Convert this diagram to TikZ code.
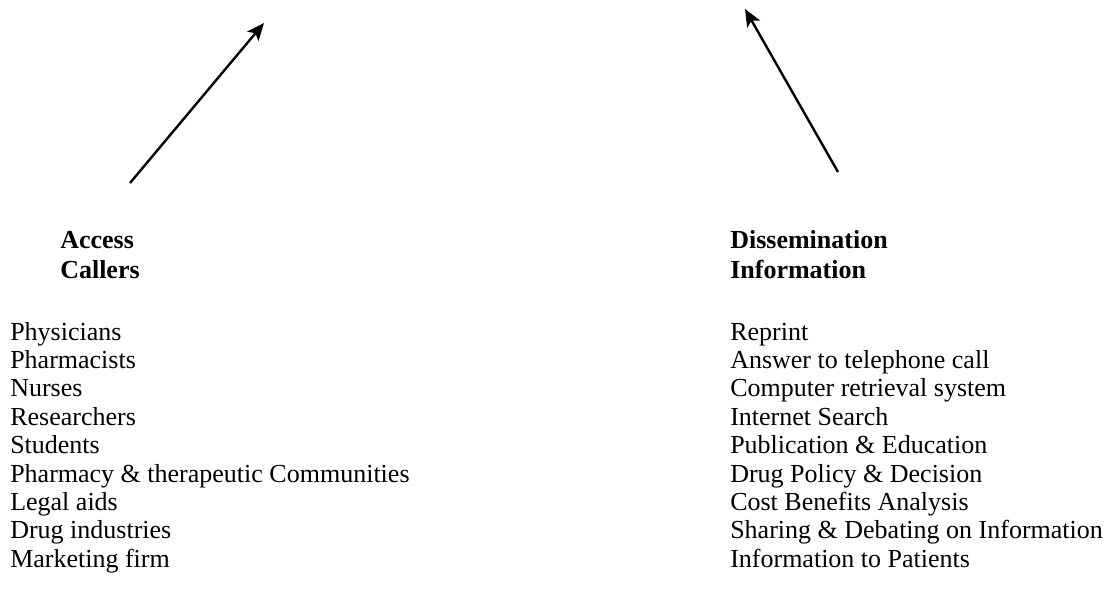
\documentclass[tikz,border=0pt]{standalone}
\usepackage{fontspec}
\setmainfont{Liberation Serif}
\usetikzlibrary{arrows.meta}
\tikzset{
  listitem/.style={anchor=base west, inner sep=0pt, font=\fontsize{19.5}{21.5}\selectfont},
  header/.style={anchor=base west, inner sep=0pt, font=\fontsize{19.5}{21.5}\selectfont\bfseries},
  bigarrow/.style={line width=1.8pt, -{Stealth[length=13pt, width=11pt, inset=3pt]}}
}
\begin{document}
\begin{tikzpicture}[x=0.75pt, y=-0.75pt]
\useasboundingbox (0,0) rectangle (1113,590);
% arrows
\coordinate (lt) at (130,183);
\coordinate (lh) at (264,23);
\coordinate (rt) at (838,172);
\coordinate (rh) at (745,9);
\draw[bigarrow] (lt) -- (lh);
\draw[bigarrow] (rt) -- (rh);
% headers
\node[header] (acc) at (60,248) {Access};
\node[header] (cal) at (60,278) {Callers};
\node[header] (dis) at (730,248) {Dissemination};
\node[header] (inf) at (730,278) {Information};
% left list
\foreach \t [count=\i from 0] in {Physicians, Pharmacists, Nurses, Researchers, Students, Pharmacy \& therapeutic Communities, Legal aids, Drug industries, Marketing firm}
  \node[listitem] (l\i) at (10,{340+28.4*\i}) {\t};
% right list
\foreach \t [count=\i from 0] in {Reprint, Answer to telephone call, Computer retrieval system, Internet Search, Publication \& Education, Drug Policy \& Decision, Cost Benefits Analysis, Sharing \& Debating on Information, Information to Patients}
  \node[listitem] (r\i) at (730,{340+28.4*\i}) {\t};
\end{tikzpicture}
\end{document}
